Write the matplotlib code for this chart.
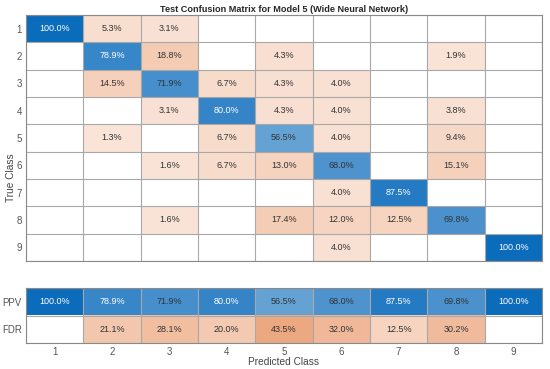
import numpy as np
import matplotlib
matplotlib.use("Agg")
import matplotlib.pyplot as plt

plt.rcParams["font.family"] = ["Liberation Sans", "DejaVu Sans"]

classes = ["1", "2", "3", "4", "5", "6", "7", "8", "9"]
# column-normalised percentages (rows = true class, cols = predicted class); NaN = empty
cm_pct = np.array([
    [100.0, 5.3, 3.1, np.nan, np.nan, np.nan, np.nan, np.nan, np.nan],
    [np.nan, 78.9, 18.8, np.nan, 4.3, np.nan, np.nan, 1.9, np.nan],
    [np.nan, 14.5, 71.9, 6.7, 4.3, 4.0, np.nan, np.nan, np.nan],
    [np.nan, np.nan, 3.1, 80.0, 4.3, 4.0, np.nan, 3.8, np.nan],
    [np.nan, 1.3, np.nan, 6.7, 56.5, 4.0, np.nan, 9.4, np.nan],
    [np.nan, np.nan, 1.6, 6.7, 13.0, 68.0, np.nan, 15.1, np.nan],
    [np.nan, np.nan, np.nan, np.nan, np.nan, 4.0, 87.5, np.nan, np.nan],
    [np.nan, np.nan, 1.6, np.nan, 17.4, 12.0, 12.5, 69.8, np.nan],
    [np.nan, np.nan, np.nan, np.nan, np.nan, 4.0, np.nan, np.nan, 100.0],
])
ppv = [100.0, 78.9, 71.9, 80.0, 56.5, 68.0, 87.5, 69.8, 100.0]
fdr = [np.nan, 21.1, 28.1, 20.0, 43.5, 32.0, 12.5, 30.2, np.nan]
summary_labels = ["PPV", "FDR"]

BLUE = np.array([12, 108, 188]) / 255
ORANGE = np.array([220, 88, 12]) / 255
TXT_DARK = "#333333"
EDGE = "#a8a8a8"


def cell_color(v, good):
    if np.isnan(v) or v == 0:
        return np.array([1.0, 1.0, 1.0])
    a = min(1.0, 0.15 + 0.85 * v / 100.0)
    base = BLUE if good else ORANGE
    return 1 - a * (1 - base)


def draw_grid(ax, vals, good_mask, nrows, ncols):
    img = np.ones((nrows, ncols, 3))
    for r in range(nrows):
        for c in range(ncols):
            img[r, c] = cell_color(vals[r][c], good_mask[r][c])
    ax.imshow(img, extent=(-0.5, ncols - 0.5, nrows - 0.5, -0.5), aspect="auto",
              interpolation="nearest")
    for r in range(nrows):
        for c in range(ncols):
            v = vals[r][c]
            if np.isnan(v):
                continue
            col = "white" if (good_mask[r][c] and v >= 75) else TXT_DARK
            ax.text(c, r, f"{v:.1f}%", ha="center", va="center", fontsize=6.5,
                    color=col)
    for k in range(ncols + 1):
        ax.axvline(k - 0.5, color=EDGE, lw=0.8)
    for k in range(nrows + 1):
        ax.axhline(k - 0.5, color=EDGE, lw=0.8)
    ax.set_xlim(-0.5, ncols - 0.5)
    ax.set_ylim(nrows - 0.5, -0.5)
    for s in ax.spines.values():
        s.set_color("#8a8a8a")
        s.set_linewidth(0.8)
    ax.tick_params(length=0, labelsize=7, colors="#555555", pad=3)


fig = plt.figure(figsize=(5.5, 3.69), dpi=100)
ax = fig.add_axes([26 / 550, 1 - 261 / 369, 516 / 550, 246 / 369])
axb = fig.add_axes([26 / 550, 1 - 343 / 369, 516 / 550, 55 / 369])

n = len(classes)
good = [[r == c for c in range(n)] for r in range(n)]
draw_grid(ax, cm_pct, good, n, n)
ax.set_xticks([])
ax.set_yticks(range(n))
ax.set_yticklabels(classes)

draw_grid(axb, [ppv, fdr], [[True] * n, [False] * n], 2, n)
axb.set_xticks(range(n))
axb.set_xticklabels(classes)
axb.set_yticks(range(2))
axb.set_yticklabels(summary_labels)
axb.tick_params(axis="x", pad=3)

fig.text(284 / 550, 1 - 9 / 369, "Test Confusion Matrix for Model 5 (Wide Neural Network)",
         ha="center", va="center", fontsize=6.6, fontweight="bold", color="#262626")
fig.text(284 / 550, 1 - 362 / 369, "Predicted Class", ha="center", va="center",
         fontsize=7.3, color="#444444")
fig.text(11 / 550, 1 - 178 / 369, "True Class", ha="center", va="center",
         rotation=90, fontsize=7.3, color="#444444")

fig.savefig("out.png", dpi=100)
